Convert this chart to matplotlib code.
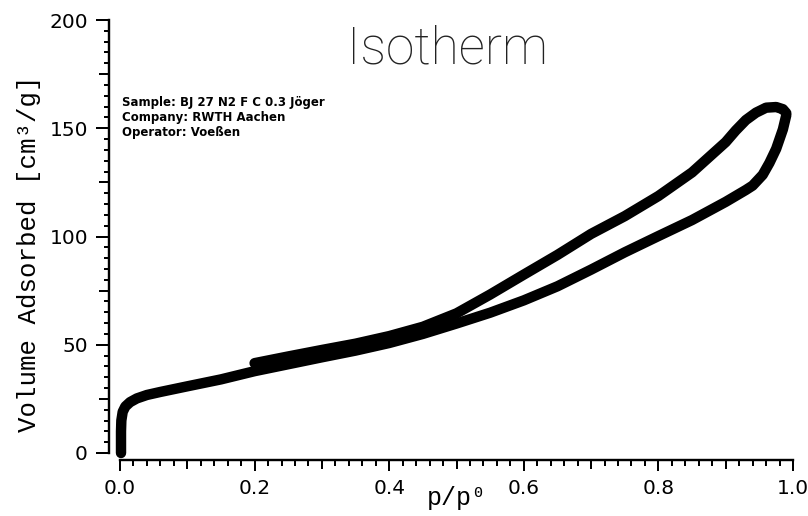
import numpy as np
import matplotlib.pyplot as plt
from matplotlib.ticker import FuncFormatter

# adsorption branch (p/p0, cm3/g)
p_ads = [0.0015, 0.0015, 0.002, 0.004, 0.008, 0.015, 0.025, 0.04, 0.06, 0.08,
         0.10, 0.15, 0.20, 0.25, 0.30, 0.35, 0.40, 0.45, 0.50, 0.55, 0.60,
         0.65, 0.70, 0.75, 0.80, 0.85, 0.90, 0.93, 0.94, 0.955, 0.965, 0.975,
         0.985, 0.99]
v_ads = [0, 10, 15, 19, 21.5, 23.5, 25.2, 26.8, 28.2, 29.5,
         30.8, 34.0, 37.8, 41.0, 44.2, 47.3, 50.8, 55.0, 59.8, 64.8, 70.5,
         77.0, 84.7, 92.7, 100.2, 107.6, 116.0, 121.5, 123.5, 128.5, 134.0, 140.5,
         149.5, 156.0]

# desorption branch
p_des = [0.99, 0.985, 0.975, 0.96, 0.945, 0.93, 0.915, 0.90, 0.85, 0.80,
         0.75, 0.70, 0.65, 0.60, 0.55, 0.50, 0.45, 0.40, 0.35, 0.30, 0.25,
         0.20]
v_des = [157.0, 158.8, 159.8, 159.5, 157.2, 153.8, 149.0, 143.6, 129.6, 118.7,
         109.4, 101.2, 91.5, 82.4, 73.2, 64.5, 58.3, 54.0, 50.5, 47.6, 44.6,
         41.5]

info = ['Sample: BJ 27 N2 F C 0.3 Jöger',
        'Company: RWTH Aachen',
        'Operator: Voeßen']

W, H = 808, 516
px = 72 / 100  # points per pixel at dpi 100

fig = plt.figure(figsize=(W / 100, H / 100), dpi=100)
ax = fig.add_axes([120 / W, 63 / H, 673 / W, 433 / H])

ax.plot(p_ads, v_ads, color='black', lw=7.5, solid_capstyle='round',
        solid_joinstyle='round', clip_on=False)
ax.plot(p_des, v_des, color='black', lw=7.5, solid_capstyle='round',
        solid_joinstyle='round', clip_on=False)

ax.set_xlim(0, 1)
ax.set_ylim(0, 200)

for s in ['top', 'right']:
    ax.spines[s].set_visible(False)
ax.spines['left'].set_position(('outward', 11 * px))
ax.spines['bottom'].set_position(('outward', 7 * px))
for s in ['left', 'bottom']:
    ax.spines[s].set_linewidth(2.4 * px)

xmaj = np.round(np.arange(0, 1.001, 0.1), 2)
xmin = np.round(np.arange(0, 1.001, 0.02), 2)
ymaj = np.arange(0, 201, 25)
ymin = np.arange(0, 201, 5)
ax.set_xticks(xmaj)
ax.set_xticks(xmin, minor=True)
ax.set_yticks(ymaj)
ax.set_yticks(ymin, minor=True)

ax.xaxis.set_major_formatter(FuncFormatter(
    lambda v, pos: f'{v:.1f}' if round(v * 10) % 2 == 0 else ''))
ax.yaxis.set_major_formatter(FuncFormatter(
    lambda v, pos: f'{v:.0f}' if round(v) % 50 == 0 else ''))

ax.tick_params(axis='x', which='major', length=11 * px, width=2 * px,
               direction='out', pad=8 * px, labelsize=14.5)
ax.tick_params(axis='x', which='minor', length=6 * px, width=2 * px,
               direction='out')
ax.tick_params(axis='y', which='major', length=13 * px, width=2 * px,
               direction='out', pad=8 * px, labelsize=14.5)
ax.tick_params(axis='y', which='minor', length=5.5 * px, width=2 * px,
               direction='out')

# in-between ticks (0.1, 0.3 ... and 25, 75 ...) a bit shorter
for i, t in enumerate(ax.xaxis.get_major_ticks()):
    if i % 2 == 1:
        t.tick1line.set_markersize(9 * px)
for i, t in enumerate(ax.yaxis.get_major_ticks()):
    if i % 2 == 1:
        t.tick1line.set_markersize(10 * px)

mono = ['Liberation Mono', 'DejaVu Sans Mono']
fig.text(29 / W, 1 - 254 / H, 'Volume Adsorbed [cm³/g]', rotation=90,
         ha='center', va='center', fontsize=18.5, family=mono)
fig.text(456.5 / W, 1 - 505 / H, 'p/p⁰', ha='center', va='baseline',
         fontsize=18, family=mono)

fig.text(447.5 / W, 1 - 63 / H, 'Isotherm', ha='center', va='baseline',
         fontsize=37, family=['Roboto', 'DejaVu Sans'], fontweight='light',
         color='#222222')

fig.text(122 / W, 1 - 96 / H, '\n'.join(info), ha='left', va='top',
         fontsize=8.5, fontweight='bold', linespacing=1.2,
         family='DejaVu Sans')

fig.savefig('out.png', dpi=100)
